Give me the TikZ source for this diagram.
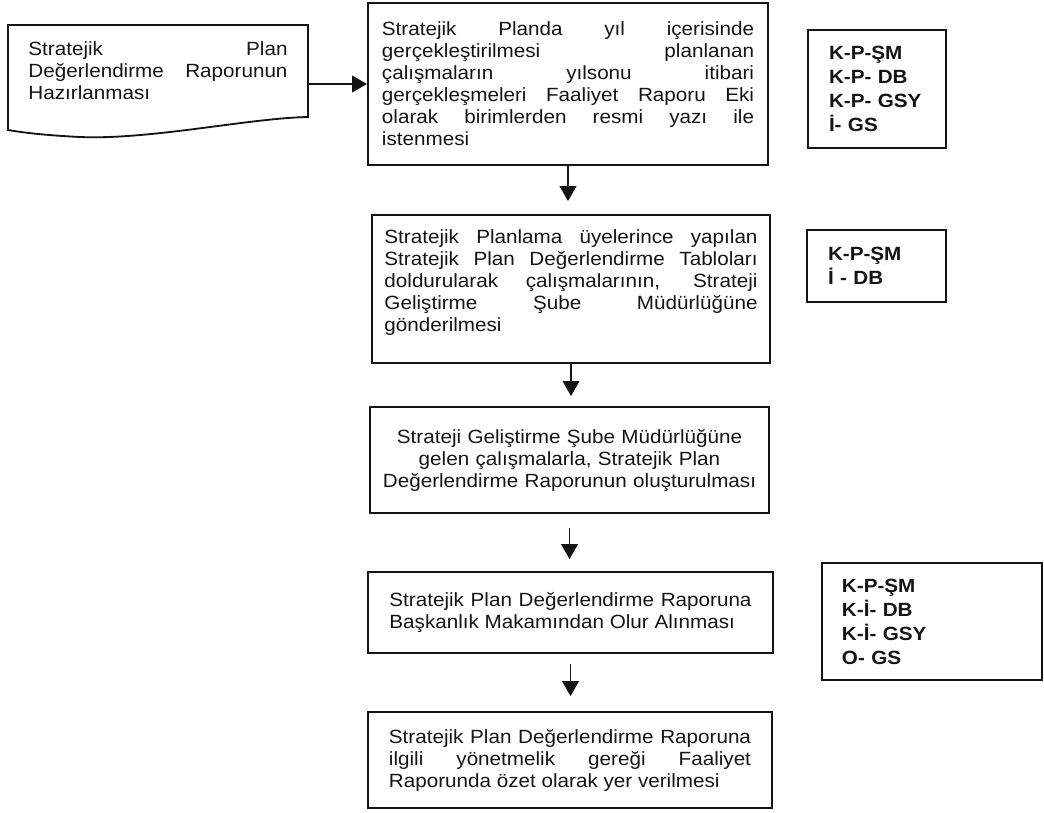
\documentclass[tikz,border=0pt]{standalone}
\usepackage{fontspec}
\setmainfont{Liberation Sans}[FakeStretch=1.08]
\usetikzlibrary{arrows.meta}
\colorlet{ink}{black!92}
\tolerance=10000
\hbadness=10000

\tikzset{
	kutu/.style={draw=ink, line width=1.3pt, inner sep=0pt, text=ink, font=\fontsize{13.6}{15.65}\selectfont},
	yetki/.style={kutu, align=left, font=\fontsize{13.6}{17.07}\selectfont\bfseries},
	ok/.style={draw=ink, line width=0.9pt, -{Triangle[length=0.375cm,width=0.42cm]}}
}

\begin{document}
\begin{tikzpicture}[x=0.025cm, y=-0.025cm]
			\useasboundingbox (0,0) rectangle (1044,812);
			% belge sekli
			\draw[ink, line width=1.3pt] (8,25) -- (308,25) -- (308,117)
			.. controls (250,118) and (150,140) .. (80,137)
			.. controls (40,135) and (20,132) .. (8,130) -- cycle;
			\node	(doc) at (158,71) [text=ink, inner xsep=0.5125cm, text width=6.475cm, align=justify, font=\fontsize{13.6}{15.65}\selectfont] {Stratejik Plan\linebreak Değerlendirme Raporunun\linebreak Hazırlanması};
			% adimlar
			\node	(a) at (568,84) [kutu, minimum width=10cm, minimum height=4.05cm, text width=9.3cm, align=justify] {Stratejik Planda yıl içerisinde\linebreak gerçekleştirilmesi planlanan\linebreak çalışmaların yılsonu itibari\linebreak gerçekleşmeleri Faaliyet Raporu Eki\linebreak olarak birimlerden resmi yazı ile\linebreak istenmesi};
			\node	(b) at (571,289) [kutu, minimum width=9.95cm, minimum height=3.7cm, text width=9.325cm, align=justify] {Stratejik Planlama üyelerince yapılan\linebreak Stratejik Plan Değerlendirme Tabloları\linebreak doldurularak çalışmalarının, Strateji\linebreak Geliştirme Şube Müdürlüğüne\linebreak gönderilmesi\par\vspace*{0.3cm}};
			\node	(c) at (569.5,460) [kutu, minimum width=9.975cm, minimum height=2.65cm, text width=9.7cm, align=center] {Strateji Geliştirme Şube Müdürlüğüne\\ gelen çalışmalarla, Stratejik Plan\\ Değerlendirme Raporunun oluşturulması};
			\node	(d) at (570.5,612.5) [kutu, minimum width=10.125cm, minimum height=2.025cm, text width=9.05cm, align=justify] {Stratejik Plan Değerlendirme Raporuna\linebreak Başkanlık Makamından Olur Alınması};
			\node	(e) at (570,760) [kutu, minimum width=10.1cm, minimum height=2.4cm, text width=9.05cm, align=justify] {Stratejik Plan Değerlendirme Raporuna\linebreak ilgili yönetmelik gereği Faaliyet\linebreak Raporunda özet olarak yer verilmesi};
			% sorumlular
			\node	(ka) at (877,89) [yetki, minimum width=3.45cm, minimum height=2.95cm, text width=2.4cm] {K-P-ŞM\\ K-P- DB\\ K-P- GSY\\ İ- GS};
			\node	(kb) at (876.5,266) [yetki, minimum width=3.475cm, minimum height=1.8cm, text width=2.425cm] {K-P-ŞM\\ İ - DB};
			\node	(kc) at (932,621.5) [yetki, minimum width=5.5cm, minimum height=2.925cm, text width=4.5cm] {K-P-ŞM\\ K-İ- DB\\ K-İ- GSY\\ O- GS};
			\draw
			(doc.east |- a.west) edge[ok] (a.west)
			(a.south) edge[ok, shorten >=0.325cm] (a.south |- b.north)
			(b.south) edge[ok, shorten >=0.25cm] (b.south |- c.north)
			(c.south) edge[ok, shorten <=0.35cm, shorten >=0.3cm] (c.south |- d.north)
			(d.south) edge[ok, shorten <=0.25cm, shorten >=0.375cm] (d.south |- e.north)
			;
\end{tikzpicture}
\end{document}
